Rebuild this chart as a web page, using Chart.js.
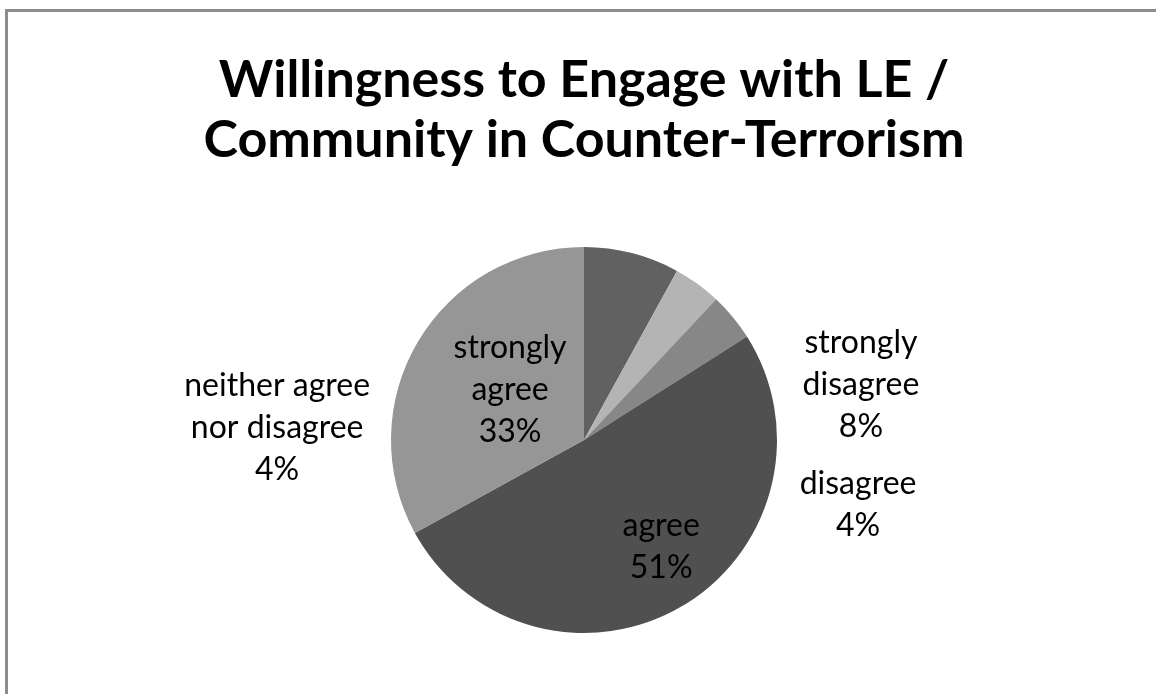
<!DOCTYPE html>
<html>
<head>
<meta charset="utf-8">
<script src="https://cdn.jsdelivr.net/npm/chart.js@4"></script>
<style>
  html, body { margin: 0; padding: 0; background: #fff; overflow: hidden; }
  #frame {
    position: absolute; left: 5px; top: 9px; width: 1300px; height: 800px;
    border-left: 3px solid #8c8c8c; border-top: 3px solid #8c8c8c;
  }
  #wrap { position: absolute; left: 0; top: 0; width: 1156px; height: 694px; }
</style>
</head>
<body>
<div id="frame"></div>
<div id="wrap"><canvas id="pieChart"></canvas></div>
<script>
const titleLines = ["Willingness to Engage with LE /", "Community in Counter-Terrorism"];
const categories = ["strongly disagree", "disagree", "neither agree nor disagree", "agree", "strongly agree"];
const shares = [8, 4, 4, 51, 33];
const sliceColors = ["#616161", "#b4b4b4", "#878787", "#505050", "#969696"];
// how each category label wraps on the chart
const labelLines = [["strongly", "disagree"], ["disagree"], ["neither agree", "nor disagree"], ["agree"], ["strongly", "agree"]];
// label block centres, in pie radii from the pie centre
const labelOffsets = [[1.435, -0.285], [1.42, 0.337], [-1.59, -0.062], [0.40, 0.554], [-0.383, -0.259]];

const sliceLabels = {
  id: "sliceLabels",
  afterDatasetsDraw(chart) {
    const ctx = chart.ctx;
    const meta = chart.getDatasetMeta(0);
    ctx.save();
    ctx.font = "32px Lato";
    ctx.fillStyle = "#000";
    ctx.textAlign = "center";
    ctx.textBaseline = "middle";
    const lineH = 42;
    meta.data.forEach((arc, i) => {
      const lines = labelLines[i].concat([shares[i] + "%"]);
      const cx = arc.x + labelOffsets[i][0] * arc.outerRadius;
      const cy = arc.y + labelOffsets[i][1] * arc.outerRadius;
      const top = cy - ((lines.length - 1) * lineH) / 2;
      lines.forEach((t, k) => ctx.fillText(t, cx, top + k * lineH));
    });
    ctx.restore();
  }
};

const canvas = document.getElementById("pieChart");

const pieConfig = {
  type: "pie",
  data: {
    labels: categories,
    datasets: [
      {
        data: shares,
        backgroundColor: sliceColors,
        borderWidth: 0,
      },
    ],
  },
  options: {
    responsive: true,
    maintainAspectRatio: false,
    animation: false,
    layout: {
      padding: { left: 12, right: 0, top: 0, bottom: 61 },
    },
    plugins: {
      legend: { display: false },
      tooltip: { enabled: false },
      title: {
        display: true,
        text: titleLines,
        color: "#000",
        font: { family: "Lato", size: 52, weight: "bold", lineHeight: 1.154 },
        padding: { top: 50, bottom: 77 },
      },
    },
  },
  plugins: [sliceLabels],
};

let pieChart = new Chart(canvas, pieConfig);
</script>
</body>
</html>
